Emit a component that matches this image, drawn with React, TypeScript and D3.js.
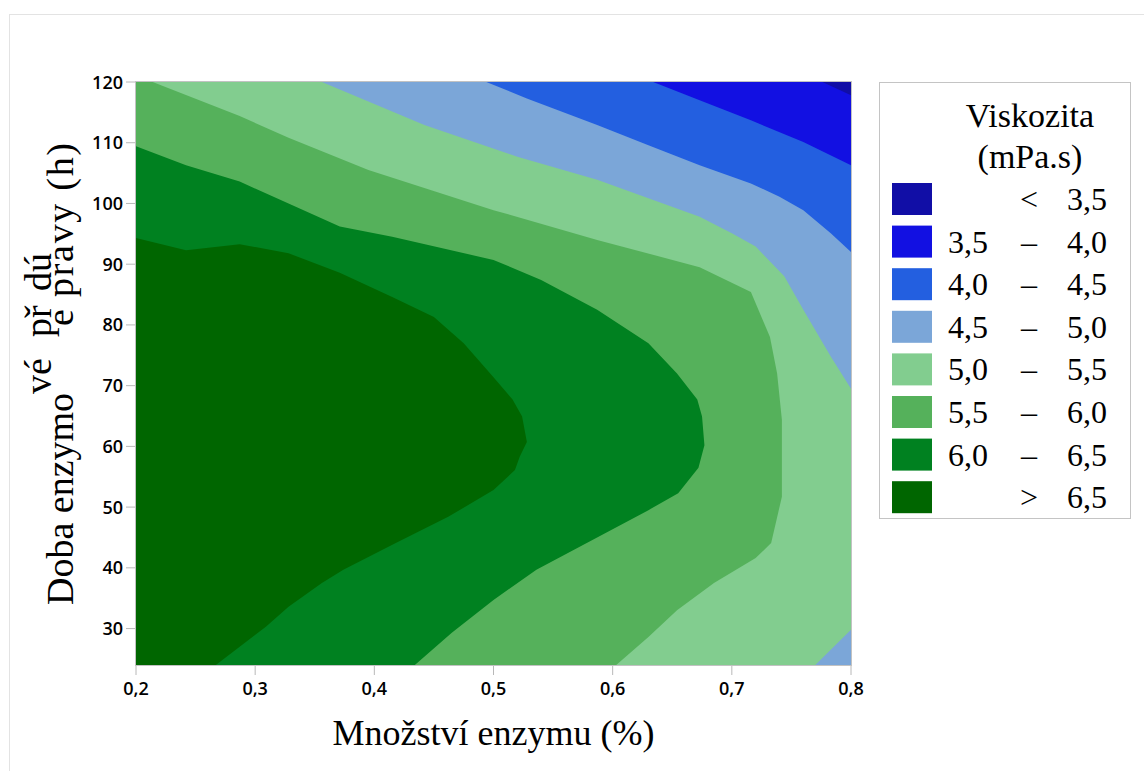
import React from "react";
import * as d3 from "d3";

// Axis domains and ticks
const xDomain = [0.2, 0.8];
const yDomain = [24, 120];
const xTicks = [0.2, 0.3, 0.4, 0.5, 0.6, 0.7, 0.8];
const yTicks = [30, 40, 50, 60, 70, 80, 90, 100, 110, 120];

// Contour levels of viscosity (mPa.s) and band colours (lowest band first)
const levels = [3.5, 4.0, 4.5, 5.0, 5.5, 6.0, 6.5];
const bandColors = [
  "#110ea6",
  "#1210e2",
  "#235fe0",
  "#7ba6d8",
  "#82cd8f",
  "#55b15b",
  "#008120",
  "#006600",
];
const legendRows = [
  ["", "<", "3,5"],
  ["3,5", "–", "4,0"],
  ["4,0", "–", "4,5"],
  ["4,5", "–", "5,0"],
  ["5,0", "–", "5,5"],
  ["5,5", "–", "6,0"],
  ["6,0", "–", "6,5"],
  ["", ">", "6,5"],
];

// Isolines as [enzyme amount %, time h]; each level may have several pieces,
// each traced with the higher values on its right-hand side.
const iso35 = [[[0.776, 120], [0.8, 117.8]]];
const iso40 = [[[0.634, 120], [0.673, 117], [0.716, 113.7], [0.76, 110.1], [0.8, 106.3]]];
const iso45 = [[
  [0.494, 120], [0.528, 117.3], [0.587, 112.9], [0.63, 109.6], [0.673, 106.3],
  [0.716, 103.3], [0.74, 101.1], [0.76, 98.9], [0.783, 95.1], [0.8, 92],
]];
const iso50 = [
  [
    [0.356, 120], [0.442, 112.9], [0.52, 107.7], [0.587, 103.9], [0.673, 97.8],
    [0.7, 95.1], [0.72, 92.9], [0.744, 88], [0.76, 82.5], [0.783, 74.8], [0.8, 69.5],
  ],
  [[0.8, 29.8], [0.77, 24]],
];
const iso55 = [[
  [0.214, 120], [0.287, 114.4], [0.328, 110.8], [0.395, 105.5], [0.5, 98.9],
  [0.587, 94], [0.673, 89.5], [0.716, 85.4], [0.732, 78], [0.738, 72],
  [0.742, 64.4], [0.742, 51.7], [0.733, 44.1], [0.72, 41.6], [0.685, 37.5],
  [0.654, 33], [0.63, 28.6], [0.603, 24],
]];
const iso60 = [[
  [0.2, 109.4], [0.242, 106.3], [0.287, 103.6], [0.371, 96.2], [0.415, 94.5],
  [0.5, 90.7], [0.54, 87.4], [0.587, 82.5], [0.63, 77], [0.654, 72],
  [0.671, 67.7], [0.675, 64.9], [0.677, 60.2], [0.672, 56.5], [0.655, 52.3],
  [0.63, 49.5], [0.583, 44.6], [0.536, 39.7], [0.5, 34.7], [0.465, 29.3], [0.434, 24],
]];
const iso65 = [[
  [0.2, 94.3], [0.242, 92.3], [0.287, 93.3], [0.328, 91.8], [0.371, 88.6],
  [0.415, 84.6], [0.45, 81.3], [0.475, 77], [0.5, 71.4], [0.516, 67.7],
  [0.524, 64.9], [0.528, 60.7], [0.522, 58.3], [0.518, 56.1], [0.5, 52.8],
  [0.462, 48.4], [0.418, 44.1], [0.374, 39.7], [0.356, 37.5], [0.328, 33.6],
  [0.309, 30.3], [0.267, 24],
]];
const isolines = [iso35, iso40, iso45, iso50, iso55, iso60, iso65];

const W = 1144;
const H = 771;
const plot = { left: 136, right: 851, top: 82, bottom: 665 };

const x = d3.scaleLinear().domain(xDomain).range([plot.left, plot.right]);
const y = d3.scaleLinear().domain(yDomain).range([plot.bottom, plot.top]);

const [X0, X1] = xDomain;
const [T0, T1] = yDomain;

// Position along the plot border, clockwise from the top-left corner (0..4)
function perim([px, pt]: number[]) {
  const e = 1e-6;
  if (Math.abs(pt - T1) < e) return (px - X0) / (X1 - X0);
  if (Math.abs(px - X1) < e) return 1 + (T1 - pt) / (T1 - T0);
  if (Math.abs(pt - T0) < e) return 2 + (X1 - px) / (X1 - X0);
  return 3 + (pt - T0) / (T1 - T0);
}
const corners: [number, number, number][] = [
  [X1, T1, 1],
  [X1, T0, 2],
  [X0, T0, 3],
  [X0, T1, 4],
];
function walk(pa: number, pb: number) {
  const end = pb <= pa ? pb + 4 : pb;
  return [...corners, ...corners.map(([a, b, p]) => [a, b, p + 4] as [number, number, number])]
    .filter(([, , p]) => p > pa && p < end)
    .sort((a, b) => a[2] - b[2])
    .map(([a, b]) => [a, b]);
}
// Superlevel region {v >= level}, closed along the border
function region(pieces: number[][][]) {
  const pts: number[][] = [];
  pieces.forEach((piece, i) => {
    pts.push(...piece);
    const next = pieces[(i + 1) % pieces.length];
    pts.push(...walk(perim(piece[piece.length - 1]), perim(next[0])));
  });
  return pts;
}

const line = d3
  .line<number[]>()
  .x((d) => x(d[0]))
  .y((d) => y(d[1]));

const serif = "'Liberation Serif', 'Times New Roman', serif";
const sans = "'Open Sans', 'Noto Sans', sans-serif";

export default function App() {
  const fmt = (v: number) => d3.format(".1f")(v).replace(".", ",");
  const legendX = 879.5;
  const legendY = 82.5;
  const rowY0 = 199;
  const rowStep = 42.6;
  return (
    <svg
      width={W}
      height={H}
      style={{ position: "absolute", left: 0, top: 0, background: "#fff" }}
    >
      <rect x={0} y={0} width={W} height={H} fill="#fff" />
      {/* outer frame */}
      <rect x={9.5} y={14.5} width={1300} height={900} fill="none" stroke="#e3e3e3" />

      {/* filled contour bands */}
      <g>
        <rect
          x={plot.left}
          y={plot.top}
          width={plot.right - plot.left}
          height={plot.bottom - plot.top}
          fill={bandColors[0]}
        />
        {isolines.map((pieces, i) => (
          <path key={levels[i]} d={line(region(pieces)) + "Z"} fill={bandColors[i + 1]} />
        ))}
      </g>

      {/* plot frame */}
      <rect
        x={plot.left - 0.5}
        y={plot.top - 0.5}
        width={plot.right - plot.left + 1}
        height={plot.bottom - plot.top + 1}
        fill="none"
        stroke="#c2c2c2"
      />

      {/* y axis */}
      <g>
        {yTicks.map((t) => (
          <g key={t}>
            <line x1={126} x2={135} y1={y(t)} y2={y(t)} stroke="#b8b8b8" />
            <text
              x={123}
              y={y(t) + 6.5}
              textAnchor="end"
              fontFamily={sans}
              fontWeight={600}
              fontSize={18}
              fill="#000"
            >
              {t}
            </text>
          </g>
        ))}
      </g>

      {/* x axis */}
      <g>
        {xTicks.map((v) => (
          <g key={v}>
            <line x1={x(v)} x2={x(v)} y1={666} y2={675} stroke="#b8b8b8" />
            <text
              x={x(v)}
              y={695}
              textAnchor="middle"
              fontFamily={sans}
              fontWeight={600}
              fontSize={18}
              fill="#000"
            >
              {fmt(v)}
            </text>
          </g>
        ))}
      </g>

      {/* axis titles */}
      <text
        x={(plot.left + plot.right) / 2}
        y={745}
        textAnchor="middle"
        fontFamily={serif}
        fontSize={36}
        fill="#000"
      >
        Množství enzymu (%)
      </text>
      <g transform="rotate(-90)" fontFamily={serif} fontSize={38} fill="#000">
        <text x={-605} y={73}>Doba enzymo</text>
        <text x={-394} y={51}>vé</text>
        <text x={-337} y={51}>př</text>
        <text x={-326} y={73}>e</text>
        <text x={-291} y={51}>dú</text>
        <text x={-297} y={73} textLength={154} lengthAdjust="spacing">
          pravy (h)
        </text>
      </g>

      {/* legend */}
      <g>
        <rect x={legendX} y={legendY} width={251} height={436} fill="#fff" stroke="#c4c4c4" />
        <text x={1030} y={127} textAnchor="middle" fontFamily={serif} fontSize={34}>
          Viskozita
        </text>
        <text x={1030} y={168} textAnchor="middle" fontFamily={serif} fontSize={34}>
          (mPa.s)
        </text>
        {legendRows.map((row, i) => {
          const cy = rowY0 + i * rowStep;
          return (
            <g key={i}>
              <rect x={892} y={cy - 16} width={40} height={32} fill={bandColors[i]} />
              <text x={988} y={cy + 11} textAnchor="end" fontFamily={serif} fontSize={32}>
                {row[0]}
              </text>
              <text x={1029} y={cy + 11} textAnchor="middle" fontFamily={serif} fontSize={32}>
                {row[1]}
              </text>
              <text x={1107} y={cy + 11} textAnchor="end" fontFamily={serif} fontSize={32}>
                {row[2]}
              </text>
            </g>
          );
        })}
      </g>
    </svg>
  );
}
